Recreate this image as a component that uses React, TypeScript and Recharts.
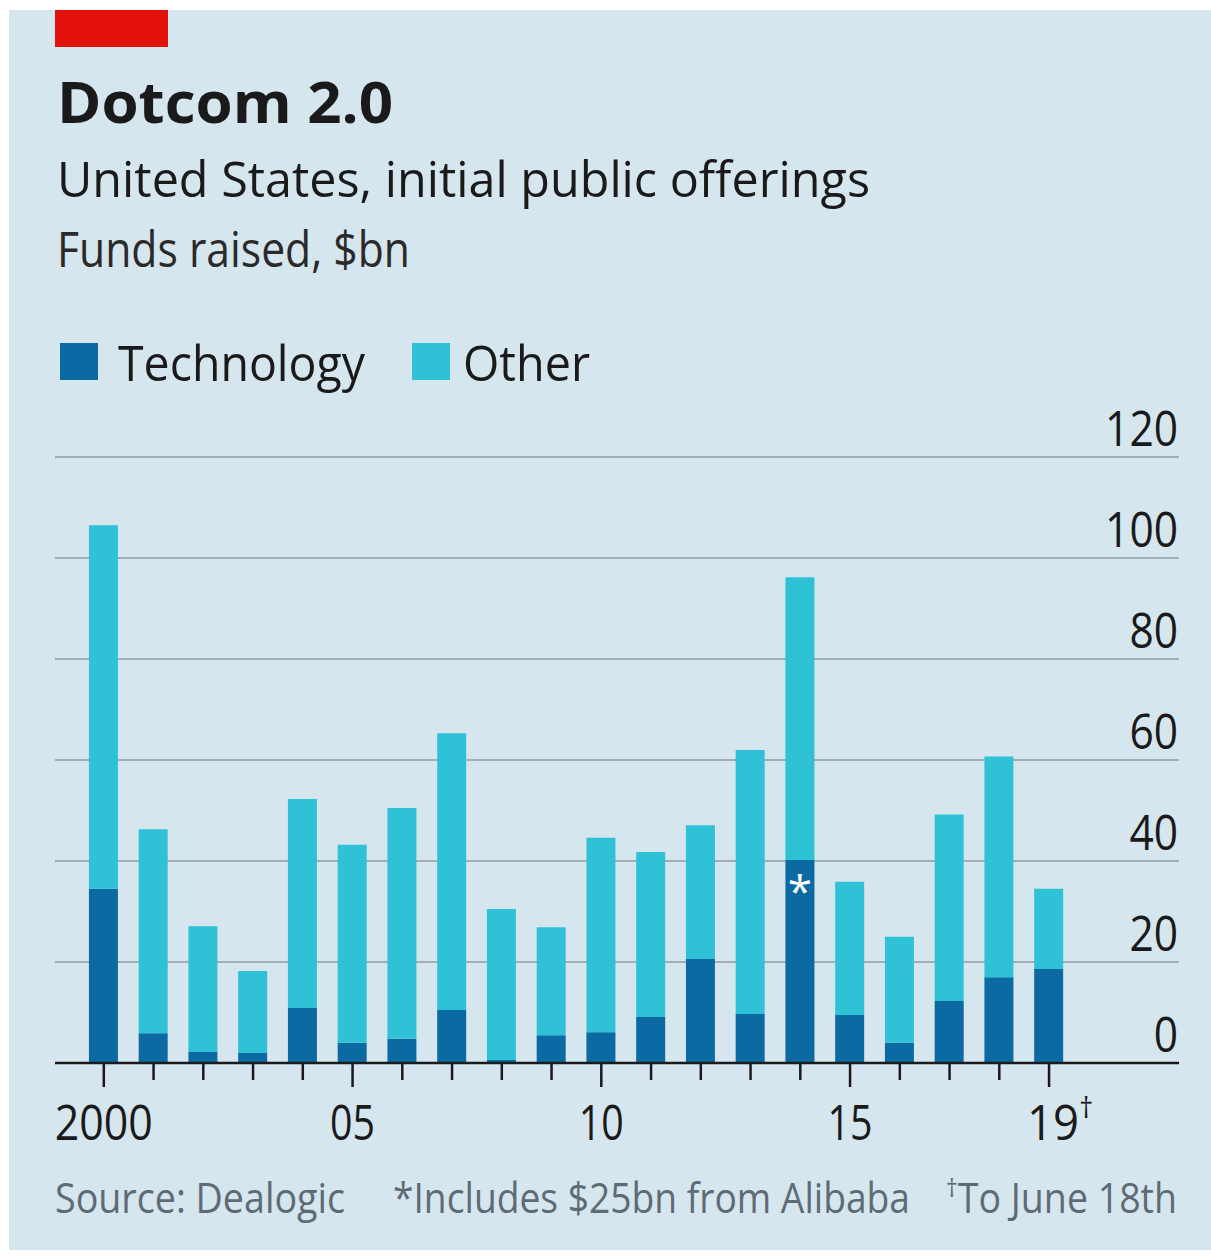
import React from 'react';
import { BarChart, Bar, XAxis, YAxis, CartesianGrid, LabelList } from 'recharts';

const years = [2000, 2001, 2002, 2003, 2004, 2005, 2006, 2007, 2008, 2009, 2010, 2011, 2012, 2013, 2014, 2015, 2016, 2017, 2018, 2019];
const technology = [34.5, 5.9, 2.2, 2.0, 10.9, 4.0, 4.8, 10.5, 0.6, 5.5, 6.1, 9.1, 20.6, 9.7, 40.2, 9.5, 4.0, 12.3, 17.0, 18.6];
const other = [72.0, 40.4, 24.9, 16.2, 41.4, 39.2, 45.7, 54.8, 29.9, 21.4, 38.5, 32.7, 26.5, 52.3, 56.0, 26.4, 21.0, 36.9, 43.7, 15.9];
const notes = ['', '', '', '', '', '', '', '', '', '', '', '', '', '', '*', '', '', '', '', ''];

const yTicks = [0, 20, 40, 60, 80, 100, 120];
const labelYears = [2000, 2005, 2010, 2015, 2019];
const labelTexts = ['2000', '05', '10', '15', '19'];
const daggerYears = [2019];

const data = years.map((y, i) => ({ year: y, tech: technology[i], other: other[i], note: notes[i] }));

const FONT = "'Open Sans', 'Noto Sans', sans-serif";
const TECH = '#0b6aa2';
const OTHER = '#2fc1d5';
const BG = '#d6e6ef';
const DARK = '#1a1a1a';
const GREY = '#5e6b74';

const XTick = (props: any) => {
  const { x, y, payload } = props;
  const v = payload.value;
  const idx = labelYears.indexOf(v);
  const major = idx >= 0;
  const txt = major ? labelTexts[idx] : '';
  const dag = daggerYears.includes(v);
  const w = txt.length === 4 ? 98 : 45;
  return (
    <g>
      <line x1={x} x2={x} y1={y} y2={y + (major ? 24 : 17)} stroke={DARK} strokeWidth={2.5} />
      {major && !dag && (
        <text x={x} y={y + 77} textAnchor="middle" fontFamily={FONT} fontSize={50} fill={DARK}
          textLength={w} lengthAdjust="spacingAndGlyphs">{txt}</text>
      )}
      {major && dag && (
        <text x={x - 22} y={y + 77} fontFamily={FONT} fontSize={50} fill={DARK}
          textLength={66} lengthAdjust="spacingAndGlyphs">{txt}<tspan fontSize={30} dy={-22}>†</tspan></text>
      )}
    </g>
  );
};

const YTick = (props: any) => {
  const { x, y, payload } = props;
  const s = String(payload.value);
  return (
    <text x={x - 1} y={y - 11} textAnchor="end" fontFamily={FONT} fontSize={50} fill={DARK}
      textLength={s.length * 24.3} lengthAdjust="spacingAndGlyphs">{s}</text>
  );
};

const NoteLabel = (props: any) => {
  const { x, y, width, value } = props;
  if (!value) return null;
  return (
    <text x={x + width / 2} y={y + 47} textAnchor="middle" fontFamily={FONT} fontSize={44} fill="#ffffff">{value}</text>
  );
};

export default function App() {
  return (
    <div style={{ position: 'absolute', left: 0, top: 0, width: 1211, height: 1256, background: '#ffffff', overflow: 'hidden' }}>
      <div style={{ position: 'absolute', left: 9, top: 10, width: 1202, height: 1240, background: BG }} />
      <div style={{ position: 'absolute', left: 0, top: 0 }}>
        <BarChart width={1211} height={1256} data={data} margin={{ top: 457, right: 32, bottom: 133, left: 55 }}>
          <CartesianGrid horizontal vertical={false} stroke="#a2adb6" strokeWidth={2} />
          <XAxis dataKey="year" type="number" domain={[1999.019, 2021.612]} allowDataOverflow ticks={years}
            interval={0} height={60} tickSize={0} tickMargin={0} tickLine={false}
            axisLine={{ stroke: DARK, strokeWidth: 2.5 }} tick={<XTick />} />
          <YAxis orientation="right" mirror domain={[0, 120]} ticks={yTicks} axisLine={false} tickLine={false}
            tickSize={0} tickMargin={0} tick={<YTick />} width={60} />
          <Bar dataKey="tech" stackId="a" fill={TECH} barSize={29} isAnimationActive={false}>
            <LabelList dataKey="note" content={<NoteLabel />} />
          </Bar>
          <Bar dataKey="other" stackId="a" fill={OTHER} barSize={29} isAnimationActive={false} />
        </BarChart>
      </div>
      <svg width={1211} height={1256} style={{ position: 'absolute', left: 0, top: 0, pointerEvents: 'none' }}>
        <rect x={55} y={10} width={113} height={37} fill="#e3120b" />
        <text x={57} y={123} fontFamily={FONT} fontWeight={700} fontSize={58} fill={DARK} textLength={336} lengthAdjust="spacingAndGlyphs">Dotcom 2.0</text>
        <text x={57} y={197} fontFamily={FONT} fontSize={50} fill={DARK} textLength={813} lengthAdjust="spacingAndGlyphs">United States, initial public offerings</text>
        <text x={57} y={267} fontFamily={FONT} fontSize={50} fill="#2a2a2a" textLength={353} lengthAdjust="spacingAndGlyphs">Funds raised, $bn</text>
        <rect x={60} y={343} width={38} height={37} fill={TECH} />
        <text x={118} y={381} fontFamily={FONT} fontSize={50} fill={DARK} textLength={247} lengthAdjust="spacingAndGlyphs">Technology</text>
        <rect x={412} y={343} width={38} height={37} fill={OTHER} />
        <text x={463} y={381} fontFamily={FONT} fontSize={50} fill={DARK} textLength={127} lengthAdjust="spacingAndGlyphs">Other</text>
        <text x={55} y={1213} fontFamily={FONT} fontSize={42} fill={GREY} textLength={290} lengthAdjust="spacingAndGlyphs">Source: Dealogic</text>
        <text x={393} y={1213} fontFamily={FONT} fontSize={42} fill={GREY} textLength={517} lengthAdjust="spacingAndGlyphs">*Includes $25bn from Alibaba</text>
        <text x={946} y={1213} fontFamily={FONT} fontSize={42} fill={GREY} textLength={231} lengthAdjust="spacingAndGlyphs"><tspan fontSize={26} dy={-16}>†</tspan><tspan dy={16}>To June 18th</tspan></text>
      </svg>
    </div>
  );
}
